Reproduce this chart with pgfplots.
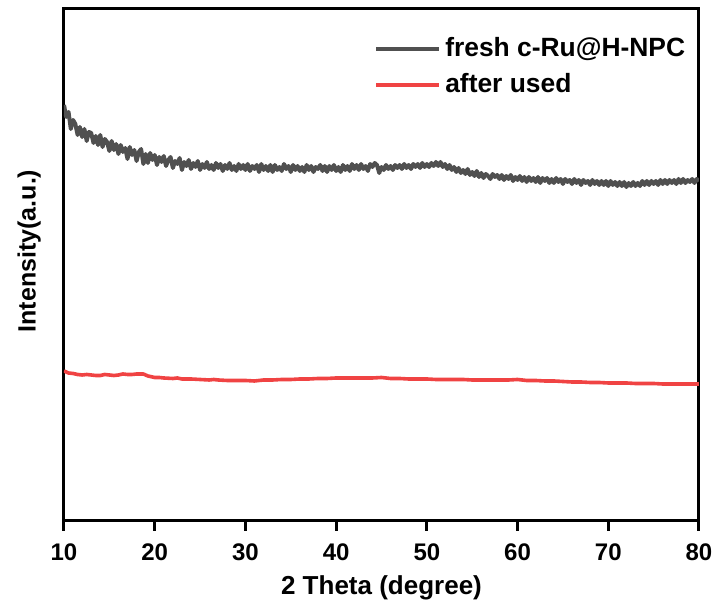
\documentclass[border=0pt]{standalone}
\usepackage{fontspec}
\setmainfont{Liberation Sans}
\usepackage{pgfplots}
\pgfplotsset{compat=1.18}
\definecolor{cgray}{HTML}{505050}
\definecolor{cred}{HTML}{F04343}
\begin{document}
\begin{tikzpicture}
\begin{axis}[name=ax,
  scale only axis, width=317.5pt, height=256pt,
  xmin=10, xmax=80, ymin=0, ymax=512,
  axis line style={line width=1.5pt},
  xtick={10,20,...,80}, ytick=\empty,
  xtick pos=bottom, tick align=outside,
  major tick length=5pt,
  every tick/.style={line width=1.5pt, black},
  /pgf/number format/assume math mode=true,
  xticklabel style={font=\fontsize{12}{14}\selectfont\bfseries, yshift=-3pt},
  xlabel={2 Theta (degree)},
  ylabel={Intensity(a.u.)},
  xlabel style={font=\fontsize{13}{15}\selectfont\bfseries, yshift=-0.5pt},
  ylabel style={font=\fontsize{12.5}{15}\selectfont\bfseries, yshift=3pt, xshift=7pt},
  legend cell align=left,
  legend style={draw=none, fill=none, at={(0.488,0.953)}, anchor=north west,
    font=\fontsize{13.2}{15}\selectfont\bfseries, row sep=3pt, inner sep=0pt,
    /tikz/every even column/.append style={column sep=3pt}},
  legend image code/.code={\draw[#1, line width=2pt] (0pt,0pt) -- (31.5pt,0pt);},
]
\addplot[cgray, line width=2pt, line join=round] coordinates {
(10,416)(10.25,404)(10.5,409)(10.75,392)
(11,401)(11.25,397)(11.5,386)(11.75,394)
(12,384)(12.25,392)(12.5,380)(12.75,389)
(13,388)(13.25,378)(13.5,385)(13.75,376)
(14,386)(14.25,374)(14.5,382)(14.75,379)
(15,370)(15.25,380)(15.5,371)(15.75,377)
(16,367)(16.25,376)(16.5,369)(16.75,373)
(17,362)(17.25,374)(17.5,366)(17.75,371)
(18,360)(18.25,369)(18.5,372)(18.75,357)
(19,367)(19.25,358)(19.5,368)(19.75,361)
(20,366)(20.25,356)(20.5,364)(20.75,359)
(21,365)(21.25,355)(21.5,361)(21.75,364)
(22,353)(22.25,360)(22.5,357)(22.75,363)
(23,351)(23.25,359)(23.5,355)(23.75,361)
(24,352)(24.25,358)(24.5,354)(24.75,360)
(25,351)(25.25,357)(25.5,353)(25.75,359)
(26,352)(26.25,356)(26.5,351)(26.75,358)
(27,353)(27.25,357)(27.5,350)(27.75,356)
(28,352)(28.25,358)(28.5,351)(28.75,355)
(29,350)(29.25,357)(29.5,352)(29.75,356)
(30,351)(30.25,357)(30.5,350)(30.75,355)
(31,352)(31.25,356)(31.5,349)(31.75,357)
(32,351)(32.25,355)(32.5,350)(32.75,356)
(33,349)(33.25,356)(33.5,351)(33.75,354)
(34,350)(34.25,357)(34.5,352)(34.75,355)
(35,349)(35.25,356)(35.5,351)(35.75,355)
(36,350)(36.25,354)(36.5,349)(36.75,356)
(37,351)(37.25,355)(37.5,349)(37.75,354)
(38,352)(38.25,356)(38.5,350)(38.75,355)
(39,349)(39.25,355)(39.5,351)(39.75,356)
(40,350)(40.25,354)(40.5,349)(40.75,356)
(41,351)(41.25,355)(41.5,350)(41.75,357)
(42,352)(42.25,356)(42.5,351)(42.75,357)
(43,352)(43.25,355)(43.5,350)(43.75,357)
(44,354)(44.25,358)(44.5,356)(44.75,348)
(45,354)(45.25,351)(45.5,356)(45.75,352)
(46,355)(46.25,351)(46.5,356)(46.75,353)
(47,356)(47.25,352)(47.5,357)(47.75,353)
(48,356)(48.25,352)(48.5,357)(48.75,354)
(49,357)(49.25,353)(49.5,358)(49.75,354)
(50,357)(50.25,354)(50.5,358)(50.75,355)
(51,359)(51.25,355)(51.5,359)(51.75,354)
(52,357)(52.25,352)(52.5,356)(52.75,351)
(53,354)(53.25,349)(53.5,353)(53.75,348)
(54,351)(54.25,347)(54.5,352)(54.75,346)
(55,349)(55.25,345)(55.5,350)(55.75,344)
(56,348)(56.25,343)(56.5,347)(56.75,345)
(57,342)(57.25,347)(57.5,344)(57.75,346)
(58,342)(58.25,346)(58.5,341)(58.75,345)
(59,342)(59.25,346)(59.5,340)(59.75,344)
(60,341)(60.25,345)(60.5,340)(60.75,344)
(61,339)(61.25,344)(61.5,340)(61.75,343)
(62,339)(62.25,344)(62.5,338)(62.75,343)
(63,340)(63.25,343)(63.5,338)(63.75,342)
(64,338)(64.25,343)(64.5,339)(64.75,342)
(65,337)(65.25,342)(65.5,339)(65.75,341)
(66,337)(66.25,342)(66.5,338)(66.75,341)
(67,336)(67.25,341)(67.5,338)(67.75,340)
(68,336)(68.25,341)(68.5,337)(68.75,340)
(69,336)(69.25,340)(69.5,336)(69.75,340)
(70,335)(70.25,340)(70.5,336)(70.75,339)
(71,335)(71.25,339)(71.5,335)(71.75,339)
(72,334)(72.25,338)(72.5,335)(72.75,339)
(73,335)(73.25,338)(73.5,335)(73.75,340)
(74,336)(74.25,340)(74.5,336)(74.75,340)
(75,337)(75.25,340)(75.5,336)(75.75,341)
(76,337)(76.25,341)(76.5,337)(76.75,341)
(77,338)(77.25,341)(77.5,337)(77.75,342)
(78,338)(78.25,342)(78.5,338)(78.75,341)
(79,339)(79.25,342)(79.5,338)(79.75,342)
(80,340)
};
\addlegendentry{fresh c-Ru@H-NPC}
\addplot[cred, line width=1.8pt, line join=round] coordinates {
(10,150)(10.5,148)(11,147.5)(11.5,146.5)(12,146)(12.5,146.5)(13,146)(13.5,145.5)
(14,145.5)(14.5,146.5)(15,146)(15.5,145.5)(16,146)(16.5,147)(17,146.5)(17.5,146.5)
(18,147)(18.75,147)(19.25,145)(20,143.5)(20.5,143.5)(21,143)(22,142.5)(22.5,143)(23,142)
(24,142)(25,141.5)(26,141)(26.5,141.5)(27,141)(28,140.5)(29,140.5)(30,140.5)(31,140)
(32,141)(33,141)(34,141.5)(35,141.5)(36,142)(37,142)(38,142.5)(39,142.5)(40,143)
(41,143)(42,143)(43,143)(44,143)(45,143.5)(46,142.5)(47,142.5)(48,142)(49,142)
(50,142)(51,141.5)(52,141.5)(53,141.5)(54,141.5)(55,141)(56,141)(57,141)(58,141)
(59,141)(60,141.5)(61,140.5)(62,140.5)(63,140)(64,140)(65,139.5)(66,139)(67,139)
(68,138.5)(69,138.5)(70,138)(71,138)(72,138)(73,137.5)(74,137.5)(75,137.5)(76,137)
(77,137)(78,137)(79,137)(80,137)
};
\addlegendentry{after used}
\end{axis}
\path ([xshift=-32pt,yshift=-43.5pt]ax.south west) rectangle ([xshift=10pt,yshift=4.5pt]ax.north east);
\end{tikzpicture}
\end{document}
